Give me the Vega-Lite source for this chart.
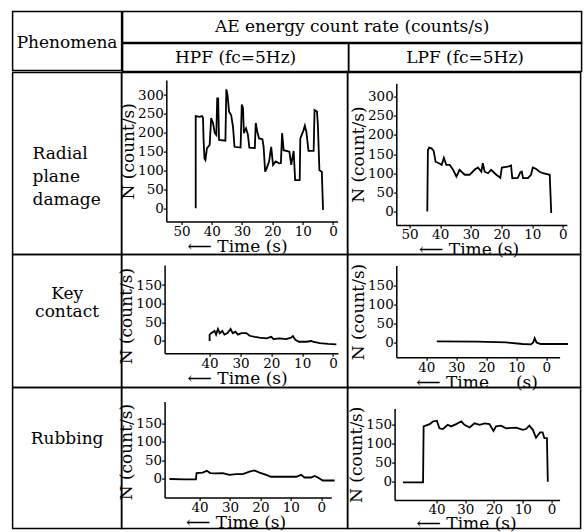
{
  "$schema": "https://vega.github.io/schema/vega-lite/v6.json",
  "padding": {"left": 11.6, "top": 10.6, "right": 3, "bottom": 0},
  "background": "white",
  "config": {
    "font": "DejaVu Serif",
    "view": {"stroke": "#000", "strokeWidth": 1.5},
    "axis": {"grid": false, "domainColor": "#000", "domainWidth": 1.5, "tickColor": "#000", "tickWidth": 1.2, "tickSize": 3, "labelFont": "DejaVu Serif", "labelFontSize": 13.5, "labelColor": "#000", "labelPadding": 0, "labelFlush": false, "labelOverlap": false, "titleFont": "DejaVu Serif", "titleFontSize": 17, "titleFontWeight": "normal", "titleColor": "#000", "titlePadding": 0},
    "text": {"font": "DejaVu Serif", "fontSize": 17, "color": "#000"},
    "line": {"color": "#000", "strokeWidth": 1.8}
  },
  "vconcat": [
    {
      "spacing": -3, "bounds": "full",
      "hconcat": [
        {"width": 109, "height": 59, "data": {"values": [{"label": "Phenomena", "fx": 0.5, "fy": 0.525}]}, "mark": {"type": "text", "baseline": "middle"},
         "encoding": {"text": {"field": "label"}, "x": {"field": "fx", "type": "quantitative", "scale": {"domain": [0, 1]}, "axis": null}, "y": {"field": "fy", "type": "quantitative", "scale": {"domain": [0, 1], "reverse": true}, "axis": null}}},
        {
          "spacing": -3, "bounds": "full",
          "vconcat": [
            {"width": 459, "height": 31, "data": {"values": [{"label": "AE energy count rate (counts/s)", "fx": 0.5, "fy": 0.5}]}, "mark": {"type": "text", "baseline": "middle"},
             "encoding": {"text": {"field": "label"}, "x": {"field": "fx", "type": "quantitative", "scale": {"domain": [0, 1]}, "axis": null}, "y": {"field": "fy", "type": "quantitative", "scale": {"domain": [0, 1], "reverse": true}, "axis": null}}},
            {
              "spacing": 0, "bounds": "flush",
              "hconcat": [
                {"width": 226, "height": 28, "data": {"values": [{"label": "HPF (fc=5Hz)", "fx": 0.5, "fy": 0.5}]}, "mark": {"type": "text", "baseline": "middle"},
                 "encoding": {"text": {"field": "label"}, "x": {"field": "fx", "type": "quantitative", "scale": {"domain": [0, 1]}, "axis": null}, "y": {"field": "fy", "type": "quantitative", "scale": {"domain": [0, 1], "reverse": true}, "axis": null}}},
                {"width": 233, "height": 28, "data": {"values": [{"label": "LPF (fc=5Hz)", "fx": 0.5, "fy": 0.5}]}, "mark": {"type": "text", "baseline": "middle"},
                 "encoding": {"text": {"field": "label"}, "x": {"field": "fx", "type": "quantitative", "scale": {"domain": [0, 1]}, "axis": null}, "y": {"field": "fy", "type": "quantitative", "scale": {"domain": [0, 1], "reverse": true}, "axis": null}}}
              ]
            }
          ]
        }
      ]
    },
    {
      "columns": 3, "spacing": 0, "bounds": "flush",
      "concat": [
        {"width": 109, "height": 182, "data": {"values": [{"label": "Radial\nplane\ndamage", "fx": 0.183, "fy": 0.445}]}, "mark": {"type": "text", "baseline": "middle", "align": "left", "lineBreak": "\n", "lineHeight": 23},
         "encoding": {"text": {"field": "label"}, "x": {"field": "fx", "type": "quantitative", "scale": {"domain": [0, 1]}, "axis": null}, "y": {"field": "fy", "type": "quantitative", "scale": {"domain": [0, 1], "reverse": true}, "axis": null}}},
        {
          "width": 226, "height": 182,
          "data": {"values": [
            {"i":1,"t":45.3,"v":0},{"i":2,"t":45.3,"v":244},{"i":3,"t":44.0,"v":242},{"i":4,"t":43.2,"v":244},{"i":5,"t":42.9,"v":240},{"i":6,"t":42.7,"v":181},{"i":7,"t":42.4,"v":132},{"i":8,"t":42.1,"v":128},{"i":9,"t":41.6,"v":159},{"i":10,"t":40.7,"v":168},
            {"i":11,"t":40.2,"v":239},{"i":12,"t":39.6,"v":226},{"i":13,"t":39.0,"v":199},{"i":14,"t":38.5,"v":194},{"i":15,"t":38.2,"v":291},{"i":16,"t":37.9,"v":291},{"i":17,"t":37.6,"v":181},{"i":18,"t":35.5,"v":179},{"i":19,"t":35.2,"v":315},{"i":20,"t":34.8,"v":300},
            {"i":21,"t":34.3,"v":256},{"i":22,"t":33.6,"v":247},{"i":23,"t":33.0,"v":216},{"i":24,"t":32.5,"v":163},{"i":25,"t":30.5,"v":161},{"i":26,"t":30.1,"v":275},{"i":27,"t":29.7,"v":265},{"i":28,"t":29.4,"v":199},{"i":29,"t":28.7,"v":212},{"i":30,"t":28.1,"v":196},
            {"i":31,"t":27.6,"v":161},{"i":32,"t":25.8,"v":160},{"i":33,"t":25.5,"v":226},{"i":34,"t":25.0,"v":203},{"i":35,"t":24.4,"v":185},{"i":36,"t":23.3,"v":183},{"i":37,"t":22.9,"v":163},{"i":38,"t":22.4,"v":97},{"i":39,"t":21.9,"v":106},{"i":40,"t":21.1,"v":124},
            {"i":41,"t":20.4,"v":163},{"i":42,"t":19.8,"v":115},{"i":43,"t":18.9,"v":124},{"i":44,"t":17.8,"v":119},{"i":45,"t":17.2,"v":120},{"i":46,"t":16.8,"v":199},{"i":47,"t":16.3,"v":154},{"i":48,"t":14.4,"v":150},{"i":49,"t":13.8,"v":115},{"i":50,"t":13.0,"v":152},
            {"i":51,"t":12.5,"v":75},{"i":52,"t":11.0,"v":75},{"i":53,"t":10.8,"v":185},{"i":54,"t":9.9,"v":203},{"i":55,"t":9.3,"v":219},{"i":56,"t":8.8,"v":203},{"i":57,"t":8.1,"v":152},{"i":58,"t":6.4,"v":152},{"i":59,"t":6.1,"v":260},{"i":60,"t":5.3,"v":256},
            {"i":61,"t":5.0,"v":220},{"i":62,"t":4.5,"v":101},{"i":63,"t":3.7,"v":97},{"i":64,"t":3.3,"v":-4}
          ]},
          "mark": {"type": "line"},
          "encoding": {
            "x": {"field": "t", "type": "quantitative", "scale": {"domain": [55, -1.5], "range": [44.7, 216], "nice": false, "zero": false}, "axis": {"values": [50,40,30,20,10,0], "offset": -33, "title": "⟵ Time (s)", "titleX": 115.5, "titleY": 24.5, "titleBaseline": "middle"}},
            "y": {"field": "v", "type": "quantitative", "scale": {"domain": [-35, 340], "range": [149, 7.3], "nice": false, "zero": false}, "axis": {"values": [0,50,100,150,200,250,300], "offset": -44.7, "title": "N (count/s)"}},
            "order": {"field": "i", "type": "quantitative"}
          }
        },
        {
          "width": 233, "height": 182,
          "data": {"values": [
            {"i":1,"t":44.2,"v":0},{"i":2,"t":44.0,"v":160},{"i":3,"t":43.6,"v":167},{"i":4,"t":42.8,"v":165},{"i":5,"t":42.1,"v":158},{"i":6,"t":41.5,"v":130},{"i":7,"t":40.4,"v":126},{"i":8,"t":39.5,"v":122},{"i":9,"t":38.8,"v":140},{"i":10,"t":38.0,"v":122},
            {"i":11,"t":36.9,"v":122},{"i":12,"t":35.8,"v":109},{"i":13,"t":34.7,"v":91},{"i":14,"t":33.7,"v":109},{"i":15,"t":32.0,"v":96},{"i":16,"t":30.4,"v":96},{"i":17,"t":28.8,"v":109},{"i":18,"t":27.7,"v":115},{"i":19,"t":26.6,"v":104},{"i":20,"t":26.1,"v":126},
            {"i":21,"t":25.5,"v":104},{"i":22,"t":24.4,"v":100},{"i":23,"t":23.4,"v":109},{"i":24,"t":21.7,"v":96},{"i":25,"t":20.4,"v":88},{"i":26,"t":19.9,"v":115},{"i":27,"t":18.0,"v":117},{"i":28,"t":16.9,"v":120},{"i":29,"t":16.5,"v":87},{"i":30,"t":14.7,"v":88},
            {"i":31,"t":13.9,"v":102},{"i":32,"t":13.4,"v":104},{"i":33,"t":13.0,"v":87},{"i":34,"t":11.4,"v":87},{"i":35,"t":10.4,"v":96},{"i":36,"t":9.8,"v":115},{"i":37,"t":8.7,"v":111},{"i":38,"t":7.6,"v":104},{"i":39,"t":6.5,"v":100},{"i":40,"t":4.3,"v":96},
            {"i":41,"t":3.8,"v":-4}
          ]},
          "mark": {"type": "line"},
          "encoding": {
            "x": {"field": "t", "type": "quantitative", "scale": {"domain": [54.3, -1.3], "range": [48.7, 219.3], "nice": false, "zero": false}, "axis": {"values": [50,40,30,20,10,0], "offset": -29.7, "title": "⟵ Time (s)", "titleX": 121, "titleY": 24.5, "titleBaseline": "middle"}},
            "y": {"field": "v", "type": "quantitative", "scale": {"domain": [-35, 335], "range": [152.3, 10.7], "nice": false, "zero": false}, "axis": {"values": [0,50,100,150,200,250,300], "offset": -48.7, "title": "N (count/s)"}},
            "order": {"field": "i", "type": "quantitative"}
          }
        },
        {"width": 109, "height": 133, "data": {"values": [{"label": "Key\ncontact", "fx": 0.5, "fy": 0.293}]}, "mark": {"type": "text", "baseline": "middle", "lineBreak": "\n", "lineHeight": 18},
         "encoding": {"text": {"field": "label"}, "x": {"field": "fx", "type": "quantitative", "scale": {"domain": [0, 1]}, "axis": null}, "y": {"field": "fy", "type": "quantitative", "scale": {"domain": [0, 1], "reverse": true}, "axis": null}}},
        {
          "width": 226, "height": 133,
          "data": {"values": [
            {"i":1,"t":40.0,"v":0},{"i":2,"t":40.0,"v":17},{"i":3,"t":39.5,"v":21},{"i":4,"t":38.4,"v":27},{"i":5,"t":37.9,"v":17},{"i":6,"t":37.3,"v":32},{"i":7,"t":36.7,"v":21},{"i":8,"t":35.9,"v":27},{"i":9,"t":35.2,"v":17},{"i":10,"t":34.2,"v":21},
            {"i":11,"t":33.2,"v":32},{"i":12,"t":32.5,"v":21},{"i":13,"t":31.6,"v":25},{"i":14,"t":30.8,"v":17},{"i":15,"t":29.7,"v":21},{"i":16,"t":28.1,"v":21},{"i":17,"t":27.0,"v":14},{"i":18,"t":25.4,"v":11},{"i":19,"t":23.8,"v":9},{"i":20,"t":21.6,"v":7},
            {"i":21,"t":20.0,"v":11},{"i":22,"t":19.3,"v":5},{"i":23,"t":17.3,"v":7},{"i":24,"t":15.2,"v":5},{"i":25,"t":13.6,"v":9},{"i":26,"t":13.0,"v":13},{"i":27,"t":12.2,"v":3},{"i":28,"t":11.0,"v":-2},{"i":29,"t":8.6,"v":-2},{"i":30,"t":7.0,"v":0},
            {"i":31,"t":6.5,"v":-2},{"i":32,"t":4.3,"v":-6},{"i":33,"t":1.6,"v":-8},{"i":34,"t":-1.1,"v":-9}
          ]},
          "mark": {"type": "line"},
          "encoding": {
            "x": {"field": "t", "type": "quantitative", "scale": {"domain": [54.6, -1.6], "range": [43, 216.3], "nice": false, "zero": false}, "axis": {"values": [40,30,20,10,0], "offset": -34.3, "title": "⟵ Time (s)", "titleX": 115.5, "titleY": 25, "titleBaseline": "middle"}},
            "y": {"field": "v", "type": "quantitative", "scale": {"domain": [-33, 204], "range": [98.7, 10.3], "nice": false, "zero": false}, "axis": {"values": [0,50,100,150], "offset": -43, "title": "N (count/s)", "titleY": 61}},
            "order": {"field": "i", "type": "quantitative"}
          }
        },
        {
          "width": 233, "height": 133,
          "data": {"values": [
            {"i":1,"t":36.5,"v":3},{"i":2,"t":23.3,"v":2},{"i":3,"t":13.4,"v":0},{"i":4,"t":7.9,"v":-4},{"i":5,"t":5.1,"v":-5},{"i":6,"t":4.4,"v":0},{"i":7,"t":3.9,"v":11},{"i":8,"t":3.3,"v":0},{"i":9,"t":1.9,"v":-4},{"i":10,"t":-7.2,"v":-4}
          ]},
          "mark": {"type": "line"},
          "encoding": {
            "x": {"field": "t", "type": "quantitative", "scale": {"domain": [50, -4.4], "range": [48.7, 212], "nice": false, "zero": false}, "axis": {"values": [40,30,20,10,0], "offset": -30.3, "title": "⟵ Time\u00a0\u00a0\u00a0\u00a0\u00a0(s)", "titleX": 129, "titleY": 25, "titleBaseline": "middle"}},
            "y": {"field": "v", "type": "quantitative", "scale": {"domain": [-39, 202], "range": [102.7, 11], "nice": false, "zero": false}, "axis": {"values": [0,50,100,150], "offset": -48.7, "title": "N (count/s)"}},
            "order": {"field": "i", "type": "quantitative"}
          }
        },
        {"width": 109, "height": 141, "data": {"values": [{"label": "Rubbing", "fx": 0.5, "fy": 0.362}]}, "mark": {"type": "text", "baseline": "middle"},
         "encoding": {"text": {"field": "label"}, "x": {"field": "fx", "type": "quantitative", "scale": {"domain": [0, 1]}, "axis": null}, "y": {"field": "fy", "type": "quantitative", "scale": {"domain": [0, 1], "reverse": true}, "axis": null}}},
        {
          "width": 226, "height": 141,
          "data": {"values": [
            {"i":1,"t":49.9,"v":0},{"i":2,"t":45.0,"v":-1},{"i":3,"t":41.2,"v":-1},{"i":4,"t":41.0,"v":16},{"i":5,"t":39.0,"v":17},{"i":6,"t":37.6,"v":22},{"i":7,"t":36.5,"v":16},{"i":8,"t":34.6,"v":15},{"i":9,"t":32.4,"v":16},{"i":10,"t":30.2,"v":11},
            {"i":11,"t":28.0,"v":13},{"i":12,"t":25.8,"v":13},{"i":13,"t":23.6,"v":20},{"i":14,"t":22.0,"v":23},{"i":15,"t":20.3,"v":17},{"i":16,"t":18.1,"v":11},{"i":17,"t":16.5,"v":6},{"i":18,"t":12.6,"v":6},{"i":19,"t":8.2,"v":6},{"i":20,"t":6.6,"v":11},
            {"i":21,"t":5.5,"v":4},{"i":22,"t":3.3,"v":4},{"i":23,"t":2.2,"v":8},{"i":24,"t":1.1,"v":4},{"i":25,"t":-0.5,"v":-4},{"i":26,"t":-4.4,"v":-4}
          ]},
          "mark": {"type": "line"},
          "encoding": {
            "x": {"field": "t", "type": "quantitative", "scale": {"domain": [51.5, -3.3], "range": [43, 209.7], "nice": false, "zero": false}, "axis": {"values": [40,30,20,10,0], "offset": -31, "title": "⟵ Time (s)", "titleX": 114, "titleY": 24.5, "titleBaseline": "middle"}},
            "y": {"field": "v", "type": "quantitative", "scale": {"domain": [-50, 208], "range": [110, 14], "nice": false, "zero": false}, "axis": {"values": [0,50,100,150], "offset": -43, "title": "N (count/s)", "titleY": 64}},
            "order": {"field": "i", "type": "quantitative"}
          }
        },
        {
          "width": 233, "height": 141,
          "data": {"values": [
            {"i":1,"t":51.7,"v":-2},{"i":2,"t":44.7,"v":-2},{"i":3,"t":44.5,"v":146},{"i":4,"t":43.8,"v":148},{"i":5,"t":42.4,"v":152},{"i":6,"t":41.3,"v":159},{"i":7,"t":39.9,"v":161},{"i":8,"t":39.0,"v":141},{"i":9,"t":37.8,"v":139},{"i":10,"t":36.1,"v":150},
            {"i":11,"t":34.9,"v":146},{"i":12,"t":33.2,"v":152},{"i":13,"t":31.4,"v":159},{"i":14,"t":30.3,"v":150},{"i":15,"t":28.5,"v":143},{"i":16,"t":26.8,"v":154},{"i":17,"t":25.0,"v":150},{"i":18,"t":23.3,"v":154},{"i":19,"t":21.6,"v":152},{"i":20,"t":20.2,"v":134},
            {"i":21,"t":19.3,"v":146},{"i":22,"t":17.6,"v":148},{"i":23,"t":15.8,"v":141},{"i":24,"t":12.3,"v":143},{"i":25,"t":10.0,"v":137},{"i":26,"t":8.9,"v":139},{"i":27,"t":7.7,"v":148},{"i":28,"t":6.5,"v":137},{"i":29,"t":5.4,"v":116},{"i":30,"t":4.0,"v":130},
            {"i":31,"t":3.1,"v":130},{"i":32,"t":2.5,"v":115},{"i":33,"t":1.6,"v":115},{"i":34,"t":1.3,"v":0}
          ]},
          "mark": {"type": "line"},
          "encoding": {
            "x": {"field": "t", "type": "quantitative", "scale": {"domain": [54.6, -2.8], "range": [47, 212], "nice": false, "zero": false}, "axis": {"values": [40,30,20,10,0], "offset": -28.7, "title": "⟵ Time (s)", "titleX": 118.5, "titleY": 24, "titleBaseline": "middle"}},
            "y": {"field": "v", "type": "quantitative", "scale": {"domain": [-48, 193], "range": [112.3, 21], "nice": false, "zero": false}, "axis": {"values": [0,50,100,150], "offset": -47, "title": "N (count/s)"}},
            "order": {"field": "i", "type": "quantitative"}
          }
        }
      ]
    }
  ],
  "spacing": -3,
  "bounds": "full"
}
